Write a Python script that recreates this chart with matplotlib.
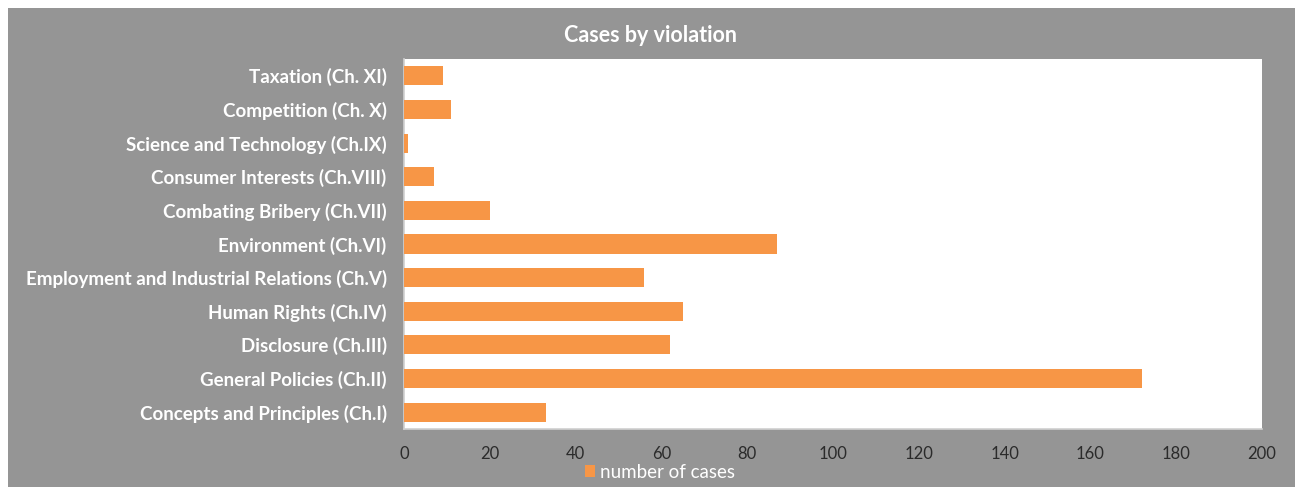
import matplotlib
matplotlib.use("Agg")
import matplotlib.pyplot as plt
from matplotlib.patches import Rectangle

categories = [
    "Concepts and Principles (Ch.I)",
    "General Policies (Ch.II)",
    "Disclosure (Ch.III)",
    "Human Rights (Ch.IV)",
    "Employment and Industrial Relations (Ch.V)",
    "Environment (Ch.VI)",
    "Combating Bribery (Ch.VII)",
    "Consumer Interests (Ch.VIII)",
    "Science and Technology (Ch.IX)",
    "Competition (Ch. X)",
    "Taxation (Ch. XI)",
]
cases = [33, 172, 62, 65, 56, 87, 20, 7, 1, 11, 9]
x_ticks = [0, 20, 40, 60, 80, 100, 120, 140, 160, 180, 200]

W, H = 1295, 487
fig = plt.figure(figsize=(W / 100, H / 100), dpi=100, facecolor="white")

# grey chart area behind everything
fig.patches.append(Rectangle((8 / W, 0), 1 - 8 / W, 1 - 8 / H,
                             transform=fig.transFigure, facecolor="#959595",
                             edgecolor="none", zorder=-10))

ax = fig.add_axes([404 / W, 1 - 429 / H, (1262 - 404) / W, (429 - 59) / H])
ax.set_zorder(1)
ax.set_facecolor("white")

bars = ax.barh(range(len(categories)), cases, height=0.57,
               color="#F79646", label="number of cases", zorder=3)

ax.set_xlim(0, 200)
ax.set_ylim(-0.5, len(categories) - 0.5)
ax.set_yticks(range(len(categories)))
ax.set_yticklabels(categories, fontfamily="Lato", fontweight="bold",
                   fontsize=13.5, color="white")
ax.set_xticks(x_ticks)
ax.set_xticklabels([str(v) for v in x_ticks], fontfamily="Lato",
                   fontsize=12, color="#2b2b2b")
ax.tick_params(axis="y", length=0, pad=12.5)
ax.tick_params(axis="x", length=0, pad=12)

for side in ("top", "right"):
    ax.spines[side].set_visible(False)
for side in ("left", "bottom"):
    ax.spines[side].set_color("#d0d0d0")
    ax.spines[side].set_linewidth(1.2)

fig.text(650 / W, 1 - 35 / H, "Cases by violation", ha="center", va="center",
         fontfamily="Lato", fontweight="bold", fontsize=15.5, color="white")

leg = fig.legend(handles=[bars], labels=["number of cases"],
                 loc="center", bbox_to_anchor=(660 / W, 1 - 472 / H),
                 frameon=False, fontsize=13.5, handlelength=0.55,
                 handleheight=0.6, handletextpad=0.25, borderpad=0)
for t in leg.get_texts():
    t.set_color("white")
    t.set_fontfamily("Lato")

fig.savefig("out.png", dpi=100, facecolor=fig.get_facecolor())
